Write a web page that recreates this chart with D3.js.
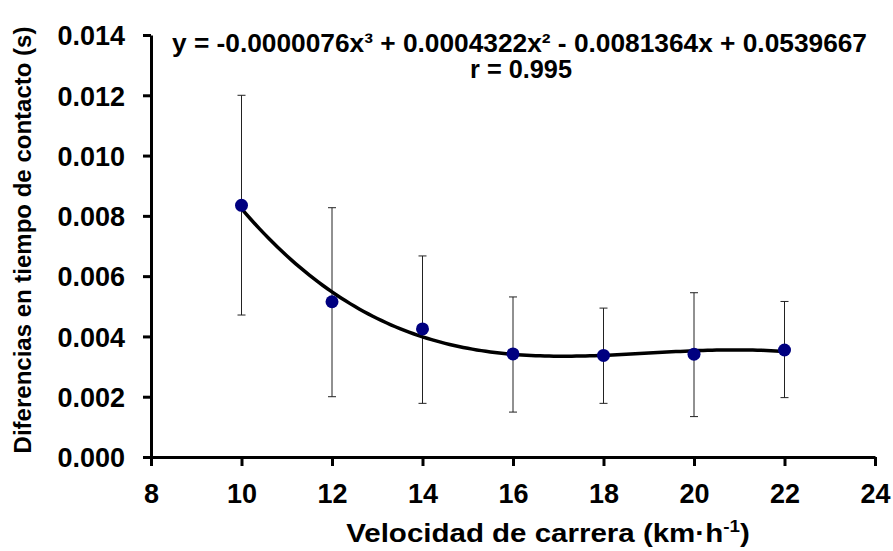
<!DOCTYPE html>
<html>
<head>
<meta charset="utf-8">
<script src="https://cdn.jsdelivr.net/npm/d3@7"></script>
<style>
  body { margin: 0; background: #fff; }
  svg { font-family: "Liberation Sans", Arial, sans-serif; font-weight: bold; }
</style>
</head>
<body>
<div id="chart"></div>
<script>
const FRAME_WIDTH = 893;
const FRAME_HEIGHT = 551;
const MARGINS = {left: 151, right: 18, top: 35, bottom: 94};

const VIS_WIDTH = FRAME_WIDTH - MARGINS.left - MARGINS.right;
const VIS_HEIGHT = FRAME_HEIGHT - MARGINS.top - MARGINS.bottom;

// data
const speeds = [10, 12, 14, 16, 18, 20, 22];
const meanDiff = [0.00835, 0.00515, 0.00425, 0.00342, 0.00337, 0.00341, 0.00355];
const upperErr = [0.0120, 0.00827, 0.00667, 0.00531, 0.00494, 0.00545, 0.00516];
const lowerErr = [0.00471, 0.0020, 0.00178, 0.00149, 0.00178, 0.00134, 0.00197];

const xTicks = [8, 10, 12, 14, 16, 18, 20, 22, 24];
const yTicks = [0, 0.002, 0.004, 0.006, 0.008, 0.010, 0.012, 0.014];

const fitLabel = "y = -0.0000076x³ + 0.0004322x² - 0.0081364x + 0.0539667";
const rLabel = "r = 0.995";

const data = speeds.map((s, i) => ({x: s, y: meanDiff[i], hi: upperErr[i], lo: lowerErr[i]}));

const FRAME = d3.select("#chart")
  .append("svg")
    .attr("width", FRAME_WIDTH)
    .attr("height", FRAME_HEIGHT);

const X_SCALE = d3.scaleLinear().domain([8, 24]).range([0, VIS_WIDTH]);
const Y_SCALE = d3.scaleLinear().domain([0, 0.014]).range([VIS_HEIGHT, 0]);

const G = FRAME.append("g")
  .attr("transform", "translate(" + MARGINS.left + "," + MARGINS.top + ")");

// x axis
const xAxis = G.append("g")
  .attr("transform", "translate(0," + VIS_HEIGHT + ")")
  .call(d3.axisBottom(X_SCALE).tickValues(xTicks).tickSize(9).tickSizeOuter(0).tickPadding(18));

// y axis
const yAxis = G.append("g")
  .call(d3.axisLeft(Y_SCALE).tickValues(yTicks).tickSize(8).tickSizeOuter(0).tickPadding(18)
    .tickFormat(d3.format(".3f")));

[xAxis, yAxis].forEach(ax => {
  ax.select(".domain").attr("stroke", "#000").attr("stroke-width", 3);
  ax.selectAll(".tick line").attr("stroke", "#000").attr("stroke-width", 3);
  ax.selectAll(".tick text")
    .attr("fill", "#000")
    .attr("font-size", "27px")
    .attr("font-weight", "bold")
    .attr("font-family", "'Liberation Sans', Arial, sans-serif");
});
yAxis.selectAll(".tick text").attr("dy", "0.36em");

// error bars
const capW = 4;
const bars = G.selectAll(".err").data(data).enter().append("g").attr("class", "err")
  .attr("stroke", "#222").attr("stroke-width", 1);
bars.append("line")
  .attr("x1", d => X_SCALE(d.x)).attr("x2", d => X_SCALE(d.x))
  .attr("y1", d => Y_SCALE(d.hi)).attr("y2", d => Y_SCALE(d.lo));
bars.append("line")
  .attr("x1", d => X_SCALE(d.x) - capW).attr("x2", d => X_SCALE(d.x) + capW)
  .attr("y1", d => Y_SCALE(d.hi)).attr("y2", d => Y_SCALE(d.hi));
bars.append("line")
  .attr("x1", d => X_SCALE(d.x) - capW).attr("x2", d => X_SCALE(d.x) + capW)
  .attr("y1", d => Y_SCALE(d.lo)).attr("y2", d => Y_SCALE(d.lo));

// cubic least-squares trendline through the means (like the spreadsheet one)
function polyfit(xs, ys, deg) {
  const n = deg + 1;
  const c = d3.mean(xs);
  const A = Array.from({length: n}, () => new Array(n + 1).fill(0));
  xs.forEach((x, k) => {
    const t = x - c;
    for (let i = 0; i < n; i++) {
      for (let j = 0; j < n; j++) A[i][j] += Math.pow(t, i + j);
      A[i][n] += ys[k] * Math.pow(t, i);
    }
  });
  for (let i = 0; i < n; i++) {
    let p = i;
    for (let r = i + 1; r < n; r++) if (Math.abs(A[r][i]) > Math.abs(A[p][i])) p = r;
    [A[i], A[p]] = [A[p], A[i]];
    for (let r = 0; r < n; r++) {
      if (r === i) continue;
      const f = A[r][i] / A[i][i];
      for (let j = i; j <= n; j++) A[r][j] -= f * A[i][j];
    }
  }
  const coef = A.map((row, i) => row[n] / row[i]);
  return x => coef.reduce((s, a, i) => s + a * Math.pow(x - c, i), 0);
}
const fit = polyfit(speeds, meanDiff, 3);
const fitX = d3.range(10, 22.001, 0.1);
G.append("path")
  .datum(fitX)
  .attr("fill", "none")
  .attr("stroke", "#000")
  .attr("stroke-width", 3.5)
  .attr("d", d3.line().x(d => X_SCALE(d)).y(d => Y_SCALE(fit(d))));

// points
G.selectAll(".point").data(data).enter().append("circle")
  .attr("class", "point")
  .attr("cx", d => X_SCALE(d.x))
  .attr("cy", d => Y_SCALE(d.y))
  .attr("r", 6.5)
  .attr("fill", "#000080");

// equation
FRAME.append("text")
  .attr("x", 519.5).attr("y", 52)
  .attr("text-anchor", "middle")
  .attr("font-size", "25px")
  .attr("textLength", 695)
  .attr("lengthAdjust", "spacingAndGlyphs")
  .text(fitLabel);
FRAME.append("text")
  .attr("x", 521).attr("y", 78)
  .attr("text-anchor", "middle")
  .attr("font-size", "25px")
  .attr("textLength", 102)
  .attr("lengthAdjust", "spacingAndGlyphs")
  .text(rLabel);

// axis titles
const xTitle = FRAME.append("g")
  .attr("transform", "translate(548,542) scale(1.18,1)")
  .append("text")
  .attr("text-anchor", "middle")
  .attr("font-size", "25px");
xTitle.append("tspan").text("Velocidad de carrera (km·h");
xTitle.append("tspan").attr("dy", -10).attr("font-size", "16px").text("-1");
xTitle.append("tspan").attr("dy", 10).text(")");

FRAME.append("text")
  .attr("transform", "translate(31,240) rotate(-90)")
  .attr("text-anchor", "middle")
  .attr("font-size", "24px")
  .text("Diferencias en tiempo de contacto (s)");
</script>
</body>
</html>
